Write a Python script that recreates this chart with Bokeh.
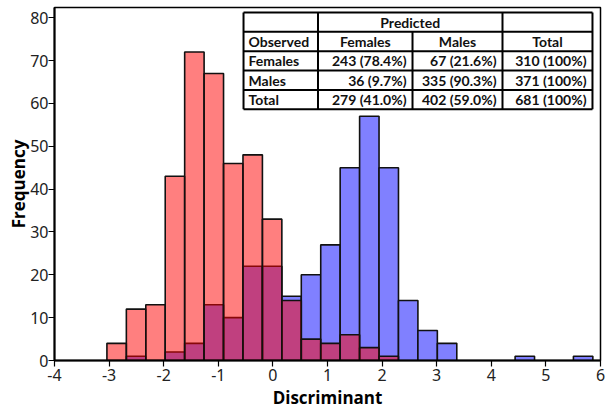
from bokeh.plotting import figure
from bokeh.models import Range1d, FixedTicker, ColumnDataSource, CustomJSTickFormatter
from bokeh.embed import file_html
from bokeh.resources import INLINE
from bokeh.core.properties import value

# ---- data ----
bin_edges = [-3.04, -2.684, -2.328, -1.972, -1.616, -1.26, -0.904, -0.548, -0.192,
             0.164, 0.52, 0.876, 1.232, 1.588, 1.944, 2.30, 2.656, 3.012, 3.368,
             3.724, 4.08, 4.436, 4.792, 5.148, 5.504, 5.86]
female_counts = [0, 1, 0, 2, 4, 13, 10, 22, 22, 15, 20, 27, 45, 57, 45, 14, 7, 4,
                 0, 0, 0, 1, 0, 0, 1]
male_counts = [4, 12, 13, 43, 72, 67, 46, 48, 33, 14, 5, 4, 6, 3, 1, 0, 0, 0,
               0, 0, 0, 0, 0, 0, 0]

x_ticks = [-4, -3, -2, -1, 0, 1, 2, 3, 4, 5, 6]
y_ticks = [0, 10, 20, 30, 40, 50, 60, 70, 80]

table_title = "Predicted"
table_head = ["Observed", "Females", "Males", "Total"]
table_rows = [
    ["Females", "243 (78.4%)", "67 (21.6%)", "310 (100%)"],
    ["Males", "36 (9.7%)", "335 (90.3%)", "371 (100%)"],
    ["Total", "279 (41.0%)", "402 (59.0%)", "681 (100%)"],
]

# ---- figure ----
p = figure(width=607, height=411, x_range=Range1d(-4, 6), y_range=Range1d(0, 82.4),
           output_backend="svg", toolbar_location=None,
           min_border_left=54, min_border_right=7, min_border_top=7, min_border_bottom=50)
p.background_fill_color = "white"
p.border_fill_color = "white"
p.outline_line_color = "black"
p.outline_line_width = 1.5
p.xgrid.visible = False
p.ygrid.visible = False


def bars(counts):
    l, r, t = [], [], []
    for i, c in enumerate(counts):
        if c > 0:
            l.append(bin_edges[i]); r.append(bin_edges[i + 1]); t.append(c)
    return ColumnDataSource(dict(left=l, right=r, top=t, bottom=[0] * len(t)))


p.quad(source=bars(female_counts), left="left", right="right", top="top", bottom="bottom",
       fill_color="#8080FF", fill_alpha=1.0, line_color="#111111", line_width=1.6)
p.quad(source=bars(male_counts), left="left", right="right", top="top", bottom="bottom",
       fill_color="#FF0000", fill_alpha=0.5, line_color="#111111", line_width=1.6)

# axes
for ax in (p.xaxis[0], p.yaxis[0]):
    ax.axis_line_width = 2
    ax.axis_line_color = "black"
    ax.major_tick_in = 0
    ax.major_tick_out = 6
    ax.major_tick_line_width = 1.2
    ax.minor_tick_line_color = None
    ax.major_label_text_font = "Noto Sans"
    ax.major_label_text_font_size = "16px"
    ax.major_label_text_color = "#222222"
    ax.axis_label_text_font = "Open Sans"
    ax.axis_label_text_font_style = "bold"
    ax.axis_label_text_font_size = "17px"
    ax.axis_label_text_color = "black"
    ax.major_label_standoff = 2
    ax.axis_label_standoff = 2
p.yaxis[0].major_label_standoff = 0
p.yaxis[0].axis_label_standoff = -3
p.xaxis.ticker = FixedTicker(ticks=x_ticks)
p.yaxis.ticker = FixedTicker(ticks=y_ticks)
p.xaxis.formatter = CustomJSTickFormatter(code="return tick.toString();")
p.xaxis.axis_label = "Discriminant"
p.yaxis.axis_label = "Frequency"

# ---- contingency table (drawn in data space of the fixed ranges) ----
col_x = [-0.538, 0.826, 2.557, 4.205, 5.853]
row_y = [81.24, 76.72, 72.21, 67.69, 63.17, 58.66]

p.quad(left=[col_x[0]], right=[col_x[-1]], top=[row_y[0]], bottom=[row_y[-1]],
       fill_color="white", line_color=None)

# horizontal lines
p.segment(x0=[col_x[0]] * len(row_y), x1=[col_x[-1]] * len(row_y), y0=row_y, y1=row_y,
          line_color="black", line_width=2)
# vertical lines
vx0, vy0, vy1 = [], [], []
for j, xv in enumerate(col_x):
    vx0.append(xv)
    vy0.append(row_y[0] if j != 2 else row_y[1])
    vy1.append(row_y[-1])
p.segment(x0=vx0, x1=vx0, y0=vy0, y1=vy1, line_color="black", line_width=2)

tf = value("Lato")
fs = value("14px")
# title row
p.text(x=[(col_x[1] + col_x[3]) / 2], y=[(row_y[0] + row_y[1]) / 2], text=[table_title],
       text_font=tf, text_font_size=fs, text_font_style="bold",
       text_align="center", text_baseline="middle", text_color="#111111")
# header row
hy = (row_y[1] + row_y[2]) / 2
p.text(x=[col_x[0]], y=[hy], text=[table_head[0]], x_offset=5,
       text_font=tf, text_font_size=fs, text_font_style="bold",
       text_align="left", text_baseline="middle", text_color="#111111")
p.text(x=[(col_x[k] + col_x[k + 1]) / 2 for k in (1, 2, 3)], y=[hy] * 3, text=table_head[1:],
       text_font=tf, text_font_size=fs, text_font_style="bold",
       text_align="center", text_baseline="middle", text_color="#111111")
# body rows
for i, row in enumerate(table_rows):
    yy = (row_y[i + 2] + row_y[i + 3]) / 2
    p.text(x=[col_x[0]], y=[yy], text=[row[0]], x_offset=5,
           text_font=tf, text_font_size=fs, text_font_style="bold",
           text_align="left", text_baseline="middle", text_color="#111111")
    p.text(x=[col_x[2], col_x[3], col_x[4]], y=[yy] * 3, text=row[1:], x_offset=-6,
           text_font=tf, text_font_size=fs, text_font_style="bold",
           text_align="right", text_baseline="middle", text_color="#111111")

open("out.html", "w").write(file_html(p, INLINE))
